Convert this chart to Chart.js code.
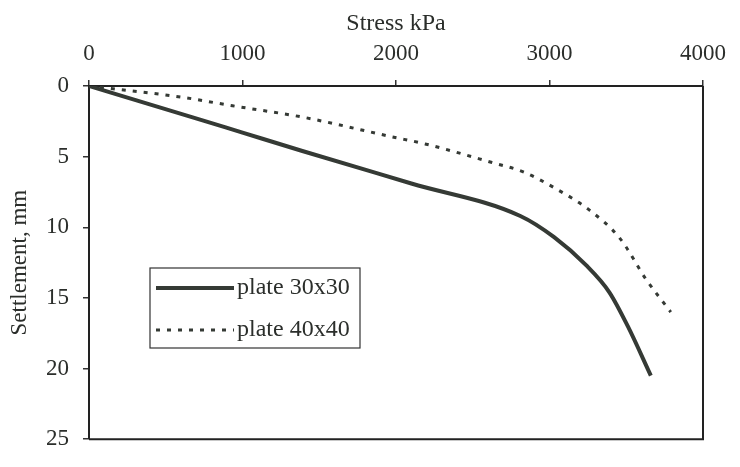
<!DOCTYPE html>
<html>
<head>
<meta charset="utf-8">
<script src="https://cdn.jsdelivr.net/npm/chart.js@4"></script>
<style>
  body { margin: 0; background: #fff; }
  #wrap { width: 740px; height: 467px; }
</style>
</head>
<body>
<div id="wrap"><canvas id="myChart" width="740" height="467"></canvas></div>
<script>
// values (stress in kPa, settlement in mm)
var stress30 = [0, 670, 1000, 1390, 2100, 2810, 3030, 3240, 3390, 3510, 3660];
var settle30 = [0, 2.2, 3.3, 4.6, 6.9, 9.2, 10.7, 12.7, 14.6, 17.0, 20.5];

var stress40 = [0, 610, 935, 1390, 1975, 2190, 2620, 2835, 3030, 3250, 3460, 3630, 3790];
var settle40 = [0, 0.8, 1.4, 2.2, 3.6, 4.1, 5.4, 6.1, 7.2, 8.7, 10.8, 13.7, 16.0];

var names = ['plate 30x30', 'plate 40x40'];

var serif = 'Liberation Serif';
var ink = '#2b2e2b';

function pts(xs, ys) {
  var out = [];
  for (var i = 0; i < xs.length; i++) {
    out.push({ x: xs[i], y: ys[i] });
  }
  return out;
}

// right + bottom edges of the box, and the legend inside the plot
var boxPlugin = {
  id: 'box',
  afterDraw: function(chart) {
    var c = chart.ctx, a = chart.chartArea;
    c.save();
    c.strokeStyle = '#222';
    c.lineWidth = 2;
    c.beginPath();
    c.moveTo(a.right, a.top);
    c.lineTo(a.right, a.bottom);
    c.lineTo(a.left, a.bottom);
    c.stroke();

    var lx = a.left + 61, ly = a.top + 182, lw = 210, lh = 80;
    c.lineWidth = 1.2;
    c.strokeStyle = '#333';
    c.strokeRect(lx, ly, lw, lh);

    var ds = chart.data.datasets;
    c.font = '24px "' + serif + '"';
    c.fillStyle = ink;
    c.textBaseline = 'middle';
    for (var i = 0; i < ds.length; i++) {
      var yy = ly + 20 + i * 42;
      c.strokeStyle = ds[i].borderColor;
      c.lineWidth = ds[i].borderWidth;
      c.setLineDash(ds[i].borderDash || []);
      c.beginPath();
      c.moveTo(lx + 6, yy);
      c.lineTo(lx + 84, yy);
      c.stroke();
      c.setLineDash([]);
      c.fillText(ds[i].label, lx + 87, yy);
    }
    c.restore();
  }
};

var ctx = document.getElementById('myChart').getContext('2d');
var chart = new Chart(ctx, {
  type: 'scatter',
  data: {
    datasets: [
      {
        label: names[0],
        data: pts(stress30, settle30),
        showLine: true,
        borderColor: '#353a35',
        borderWidth: 4,
        pointRadius: 0,
        cubicInterpolationMode: 'monotone'
      },
      {
        label: names[1],
        data: pts(stress40, settle40),
        showLine: true,
        borderColor: '#353a35',
        borderWidth: 3,
        borderDash: [4, 7],
        pointRadius: 0,
        cubicInterpolationMode: 'monotone'
      }
    ]
  },
  options: {
    responsive: false,
    animation: false,
    layout: { padding: { left: 0, right: 37, top: 0, bottom: 21 } },
    plugins: {
      legend: { display: false },
      tooltip: { enabled: false }
    },
    scales: {
      x: {
        type: 'linear',
        position: 'top',
        min: 0,
        max: 4000,
        afterFit: function(s) { s.height = 86; },
        ticks: {
          stepSize: 1000, color: ink, padding: 12, font: { family: serif, size: 23 },
          callback: function(v) { return String(v); }
        },
        grid: { drawOnChartArea: false, drawTicks: true, tickLength: 6, color: '#333', lineWidth: 1.5 },
        border: { display: true, color: '#222', width: 2 },
        title: { display: true, text: 'Stress kPa', color: ink, padding: { top: 9, bottom: 0 }, font: { family: serif, size: 24 } }
      },
      y: {
        type: 'linear',
        reverse: true,
        min: 0,
        max: 25,
        afterFit: function(s) { s.width = 89; },
        ticks: { stepSize: 5, color: ink, padding: 14, font: { family: serif, size: 23 } },
        grid: { drawOnChartArea: false, drawTicks: true, tickLength: 6, color: '#333', lineWidth: 1.5 },
        border: { display: true, color: '#222', width: 2 },
        title: { display: true, text: 'Settlement, mm', color: ink, padding: { top: 6, bottom: 0 }, font: { family: serif, size: 23 } }
      }
    }
  },
  plugins: [boxPlugin]
});
</script>
</body>
</html>
